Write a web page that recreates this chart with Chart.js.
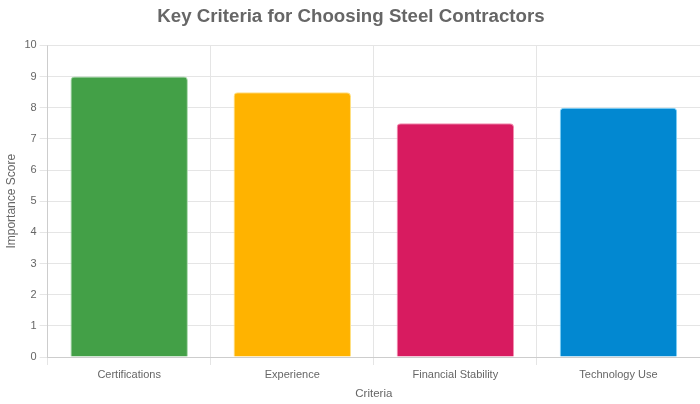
<!DOCTYPE html>
<html>
<head>
<meta charset="utf-8">
<script src="https://cdn.jsdelivr.net/npm/chart.js"></script>
<style>
html,body{margin:0;padding:0;background:#fff;}
#wrap{width:700px;height:404px;}
</style>
</head>
<body>
<div id="wrap"><canvas id="c"></canvas></div>
<script>
const categories = ["Certifications", "Experience", "Financial Stability", "Technology Use"];
const scores = [9, 8.5, 7.5, 8];
const fillColors = ["#43A047", "#FFB300", "#D81B60", "#0288D1"];
const edgeColors = ["#A5D6A7", "#FFE082", "#F48FB1", "#81D4FA"];

Chart.defaults.font.family = "'Liberation Sans', Arial, Helvetica, sans-serif";
Chart.defaults.font.size = 11;
Chart.defaults.color = "#666";

new Chart(document.getElementById('c'), {
  type: 'bar',
  data: {
    labels: categories,
    datasets: [{
      label: 'Importance Score',
      data: scores,
      backgroundColor: fillColors,
      borderColor: edgeColors,
      borderWidth: 1,
      borderRadius: 4
    }]
  },
  options: {
    responsive: true,
    maintainAspectRatio: false,
    animation: false,
    layout: { padding: { left: 2 } },
    plugins: {
      legend: { display: false },
      title: {
        display: true,
        text: 'Key Criteria for Choosing Steel Contractors',
        font: { size: 18.7, weight: 'bold' },
        color: '#666',
        padding: { top: 6, bottom: 17 }
      }
    },
    scales: {
      x: {
        title: { display: true, text: 'Criteria', font: { size: 11.5 }, padding: { top: 3, bottom: 3 } },
        grid: { color: '#e5e5e5' }
      },
      y: {
        min: 0,
        max: 10,
        ticks: { stepSize: 1 },
        title: { display: true, text: 'Importance Score', font: { size: 12 }, padding: { top: 2, bottom: 3 } },
        grid: { color: '#e5e5e5' }
      }
    }
  }
});
</script>
</body>
</html>
